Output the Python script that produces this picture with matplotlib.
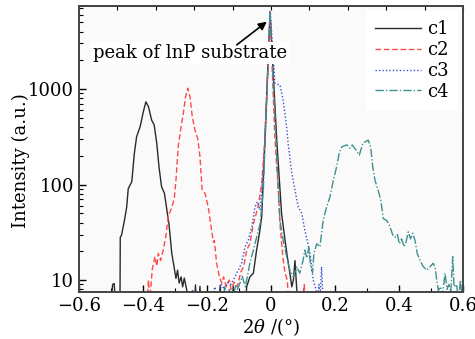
import numpy as np
import matplotlib
matplotlib.use("Agg")
import matplotlib.pyplot as plt
from matplotlib.ticker import LogLocator, NullFormatter, MultipleLocator

plt.rcParams["font.family"] = ["DejaVu Serif"]
plt.rcParams["mathtext.fontset"] = "dejavuserif"

# ---- data (values below 7.5 fall off the axis) ----
c1_x = [-0.500, -0.495, -0.490, -0.485, -0.472, -0.471, -0.467, -0.458, -0.451, -0.446,
        -0.435, -0.427, -0.420, -0.409, -0.399, -0.391, -0.383, -0.373, -0.365, -0.357,
        -0.350, -0.342, -0.333, -0.326, -0.319, -0.310, -0.303, -0.297, -0.292, -0.287,
        -0.281, -0.276, -0.271, -0.263, -0.255, -0.240, -0.236, -0.232, -0.226, -0.222,
        -0.218, -0.163, -0.159, -0.155, -0.122, -0.118, -0.114, -0.080, -0.076, -0.066,
        -0.055, -0.045, -0.036, -0.029, -0.019, -0.003, 0.018, 0.033, 0.044, 0.051,
        0.059, 0.065, 0.070, 0.075, 0.080, 0.085]
c1_y = [5, 9.0, 9.2, 5, 5, 28, 29.6, 42, 58, 91,
        107, 212, 316, 402, 577, 735, 655, 473, 421, 270,
        153, 95, 81, 56, 39, 19, 13.8, 10.4, 12.7, 9.3,
        10.8, 8.5, 10.5, 7.8, 5, 5, 8.9, 5, 5, 8.6,
        5, 5, 8.8, 5, 5, 8.6, 5, 5, 8.5, 10.8,
        11.8, 20.6, 31, 46, 292, 6300, 292, 50, 26, 17.6,
        11.8, 8.5, 10, 16, 8.5, 5]

c2_x = [-0.395, -0.388, -0.383, -0.379, -0.371, -0.3625, -0.357, -0.352, -0.345, -0.337,
        -0.329, -0.321, -0.310, -0.302, -0.297, -0.290, -0.281, -0.274, -0.267, -0.260,
        -0.253, -0.246, -0.2375, -0.229, -0.222, -0.215, -0.206, -0.196, -0.185, -0.180,
        -0.177, -0.170, -0.161, -0.154, -0.148, -0.140, -0.130, -0.125, -0.115, -0.105,
        -0.095, -0.085, -0.076, -0.066, -0.055, -0.040, -0.029, -0.019, -0.003, 0.0125,
        0.023, 0.028, 0.037, 0.044, 0.051, 0.055, 0.100, 0.104, 0.107]
c2_y = [5, 5, 10, 6, 13, 17.6, 14, 19, 16, 20.6,
        28, 46, 58, 72, 111, 248, 402, 556, 830, 1020,
        830, 513, 370, 303, 196, 87, 81, 58, 32, 25,
        26, 15, 10.8, 9.3, 10.8, 8.5, 10, 8, 9.5, 8.5,
        12, 14, 20.6, 24, 39, 59, 103, 292, 6300, 292,
        87, 39, 17.6, 11.8, 10, 6, 6, 9, 6]

c3_x = [-0.250, -0.245, -0.240, -0.200, -0.175, -0.165, -0.155, -0.145, -0.135, -0.125,
        -0.118, -0.102, -0.092, -0.081, -0.071, -0.060, -0.050, -0.043, -0.034, -0.029,
        -0.022, -0.002, 0.0125, 0.028, 0.038, 0.049, 0.054, 0.065, 0.075, 0.085,
        0.096, 0.106, 0.111, 0.122, 0.127, 0.132, 0.140, 0.145, 0.150, 0.153,
        0.158, 0.163, 0.168]
c3_y = [5, 8, 5, 5, 8.5, 5, 9, 8, 9.5, 9,
        10, 12.7, 15, 22.3, 26, 36, 58.5, 66, 54, 87,
        180, 6300, 1150, 1100, 770, 402, 260, 131, 87, 58.5,
        50, 33, 28, 19, 13.8, 10, 8.2, 6, 9, 5.5,
        13.8, 6, 5]

c4_x = [-0.150, -0.145, -0.140, -0.130, -0.120, -0.110, -0.105, -0.097, -0.090, -0.080,
        -0.066, -0.055, -0.045, -0.034, -0.024, -0.003, 0.023, 0.028, 0.038, 0.049,
        0.059, 0.070, 0.080, 0.090, 0.100, 0.106, 0.112, 0.118, 0.124, 0.130,
        0.134, 0.143, 0.153, 0.163, 0.174, 0.184, 0.195, 0.205, 0.213, 0.221,
        0.237, 0.247, 0.254, 0.266, 0.276, 0.287, 0.294, 0.304, 0.312, 0.318,
        0.325, 0.335, 0.343, 0.351, 0.362, 0.372, 0.380, 0.3875, 0.395, 0.401,
        0.408, 0.416, 0.422, 0.429, 0.436, 0.443, 0.450, 0.457, 0.466, 0.476,
        0.487, 0.497, 0.507, 0.5125, 0.518, 0.523, 0.530, 0.536, 0.544, 0.550,
        0.556, 0.562, 0.568, 0.572, 0.580, 0.586, 0.592, 0.598]
c4_y = [5, 8.5, 6, 8, 6, 9, 8, 9.3, 11, 8.5,
        15, 20.6, 28, 39, 87, 6500, 87, 42, 26, 17.6,
        12.7, 10.8, 13.8, 11.8, 16, 20.6, 17, 22, 14, 12,
        19, 24, 22.3, 42, 58.5, 74, 111, 153, 212, 248,
        260, 240, 260, 229, 203, 270, 280, 292, 240, 153,
        111, 87, 69, 44, 42, 36, 30, 28, 30, 24,
        27, 22.3, 25, 32, 27, 31, 26, 19, 16, 13.8,
        12.7, 13.8, 15, 13.8, 10, 7.8, 8.5, 7, 11.8, 8,
        9, 7.5, 17.6, 8.5, 9, 6, 10, 6]

x_ticks = [-0.6, -0.4, -0.2, 0, 0.2, 0.4, 0.6]
x_tick_labels = ["\u22120.6", "\u22120.4", "\u22120.2", "0", "0.2", "0.4", "0.6"]
y_ticks = [10, 100, 1000]
y_tick_labels = ["10", "100", "1000"]

fig = plt.figure(figsize=(4.75, 3.39), dpi=100)
ax = fig.add_axes([0.1663, 0.1386, 0.8084, 0.8437])
ax.set_facecolor("#fafafa")

ax.plot(c1_x, c1_y, color="#2a2a2a", lw=1.0, ls="-", label="c1")
ax.plot(c2_x, c2_y, color="#ff4a4a", lw=1.0, ls=(0, (4, 2)), label="c2")
ax.plot(c3_x, c3_y, color="#3a4fd0", lw=1.0, ls=(0, (1, 1.5)), label="c3")
ax.plot(c4_x, c4_y, color="#3f9090", lw=1.0, ls=(0, (6, 1.5, 1, 1.5)), label="c4")

ax.set_yscale("log")
ax.set_xlim(-0.6, 0.6)
ax.set_ylim(7.5, 7400)
ax.set_xticks(x_ticks)
ax.set_xticklabels(x_tick_labels)
ax.xaxis.set_minor_locator(MultipleLocator(0.1))
ax.set_yticks(y_ticks)
ax.set_yticklabels(y_tick_labels)
ax.yaxis.set_minor_locator(LogLocator(base=10, subs=np.arange(2, 10)))
ax.yaxis.set_minor_formatter(NullFormatter())
ax.tick_params(which="both", direction="in", top=False, right=False, labelsize=13)
ax.tick_params(which="major", length=5, width=1)
ax.tick_params(which="minor", length=3, width=0.8)

top = ax.secondary_xaxis("top")
top.set_xticks(np.linspace(-0.6, 0.6, 11))
top.tick_params(direction="in", length=3, width=0.8, labeltop=False)

for sp in ax.spines.values():
    sp.set_linewidth(1.4)
    sp.set_color("#444444")
top.spines["top"].set_linewidth(1.4)
top.spines["top"].set_color("#444444")

ax.set_xlabel("$2\\theta$ /(\u00b0)", fontsize=13, labelpad=1)
ax.set_ylabel("Intensity (a.u.)", fontsize=13)
ax.yaxis.set_label_coords(-0.128, 0.46)

ax.text(-0.253, 2380, "peak of lnP substrate", fontsize=13, ha="center", va="center",
        bbox=dict(boxstyle="square,pad=0.1", fc="white", ec="none"))
ax.annotate("", xy=(-0.013, 5070), xytext=(-0.107, 2900),
            arrowprops=dict(arrowstyle="-|>", color="black", lw=1.2, mutation_scale=12,
                            shrinkA=0, shrinkB=0))

leg = ax.legend(loc="upper right", fontsize=13, frameon=True, fancybox=False,
                edgecolor="none", facecolor="white", framealpha=1,
                handlelength=2.6, handletextpad=0.3, labelspacing=0.15,
                borderpad=0.5, borderaxespad=0.3)

fig.savefig("out.png", dpi=100)
